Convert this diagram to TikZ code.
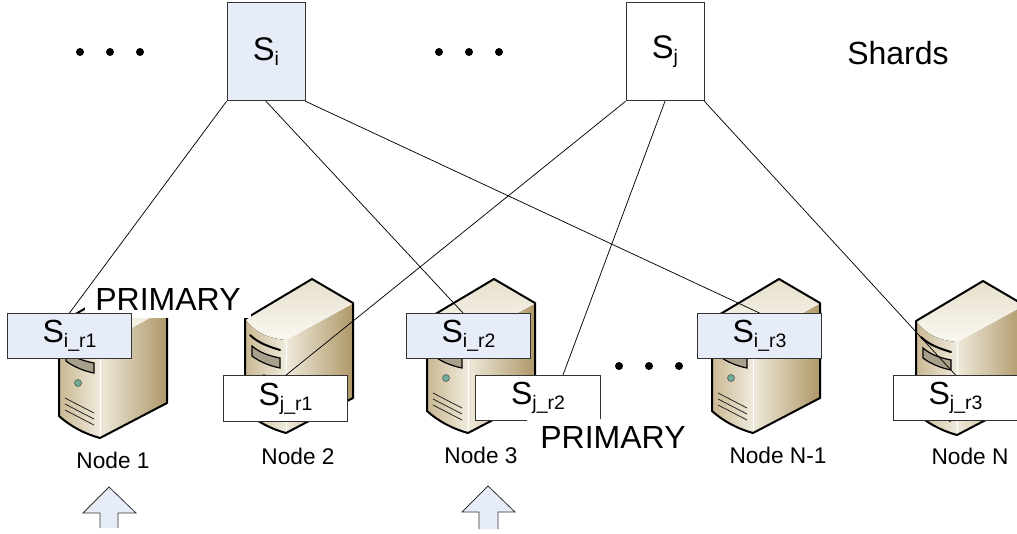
\documentclass[tikz,border=0pt]{standalone}
\usepackage{fontspec}
\setmainfont{Liberation Sans}
\definecolor{paleblue}{HTML}{E7EDF8}
\definecolor{boxline}{HTML}{333333}
\definecolor{topA}{HTML}{E6DFCB}
\definecolor{topB}{HTML}{FAF8F1}
\definecolor{frontA}{HTML}{C9B892}
\definecolor{frontB}{HTML}{F0EBDD}
\definecolor{sideA}{HTML}{EFE9DA}
\definecolor{sideB}{HTML}{AE9868}
\definecolor{bayfill}{HTML}{A9A08C}
\definecolor{ledgreen}{HTML}{6FAF95}
\newcommand{\Shard}[2]{{\fontsize{#1}{#1}\selectfont S}\raisebox{-0.36em}{\fontsize{14.6}{15}\selectfont #2}}
\tikzset{
  x=0.75pt,y=-0.75pt,
  replica/.style={draw=boxline,line width=0.7pt,minimum width=93.5pt,minimum height=34pt,inner sep=0pt,text=black},
  shardbox/.style={draw=boxline,line width=0.6pt,minimum width=58.5pt,minimum height=74pt,inner sep=0pt},
  link/.style={draw=black,line width=0.55pt},
  caption/.style={font=\fontsize{17}{18}\selectfont,inner sep=0pt},
  banner/.style={font=\fontsize{24}{26}\selectfont,inner sep=0pt},
  dotmark/.style={circle,fill=black,minimum size=6pt,inner sep=0pt},
  server/.pic={
    % front face
    \fill[left color=frontA,right color=frontB] (-41,-114) .. controls (-32,-102) and (-20,-95) .. (0,-93) -- (0,0) .. controls (-15,-4) and (-30,-12) .. (-41,-22) -- cycle;
    % right face
    \fill[left color=sideA,right color=sideB] (0,-93) -- (67,-130) -- (67,-35) -- (0,0) -- cycle;
    % top face
    \fill[top color=topA,bottom color=topB] (-41,-114) -- (26,-154) -- (67,-130) -- (0,-93) .. controls (-20,-95) and (-32,-102) .. cycle;
    \draw[white,line width=0.6pt] (0,-93) -- (0,0);
    \draw[topB,line width=0.6pt] (0,-93) -- (67,-130);
    % bays
    \draw[black,line width=1.5pt,line cap=round] (-36,-98) .. controls (-28,-90) and (-16,-86) .. (-6,-83);
    \fill[bayfill,draw=black,line width=0.9pt] (-34,-87) .. controls (-26,-80) and (-16,-77) .. (-6,-75) -- (-6,-65) .. controls (-16,-67) and (-26,-71) .. (-34,-77) -- cycle;
    \fill[ledgreen,draw=black!70,line width=0.4pt] (-22,-55) circle (3.5);
    % vents
    \draw[black!85,line width=0.6pt] (-35,-40) -- (-6,-25) (-35,-34) -- (-6,-19) (-35,-28) -- (-6,-13);
    % outline
    \draw[black,line width=1.5pt,line join=round] (-41,-114) -- (26,-154) -- (67,-130) -- (67,-35) -- (0,0) .. controls (-15,-4) and (-30,-12) .. (-41,-22) -- cycle;
  }
}
\begin{document}
\begin{tikzpicture}
\useasboundingbox (0,0) rectangle (1017,533);
\clip (0,0) rectangle (1017,533);
% servers
\pic (srvA) at (100,438) {server};
\pic (srvB) at (286,433) {server};
\pic (srvC) at (468,433) {server};
\pic (srvD) at (753,433) {server};
\pic (srvE) at (957,435) {server};
% first banner
\node[banner,fill=white,minimum width=124.5pt,minimum height=28.5pt] (primA) at (168,299) {PRIMARY};
% shards
\node[shardbox,fill=paleblue] (si) at (266,51.5) {\raisebox{-2pt}{\Shard{24.5}{i}}};
\node[shardbox,fill=white] (sj) at (665,51.5) {\raisebox{-2pt}{\Shard{24.5}{j}}};
\coordinate (endB) at (463,313);
\coordinate (endE) at (563,375);
\path (69.5,336) coordinate (cA) (468.5,336) coordinate (cB) (759.5,336) coordinate (cC)
      (285.5,398.5) coordinate (cD) (538,398) coordinate (cE) (955.5,398) coordinate (cF);
% links
\path (cA) ++(0,-23) coordinate (topA) (cC) ++(0,-23) coordinate (topC) (cD) ++(0,-23) coordinate (topD) (cF) ++(0,-23) coordinate (topF);
\draw[link] (si.south west) -- (topA);
\draw[link] (si.south) -- (endB);
\draw[link] (si.south east) -- (topC);
\draw[link] (sj.south west) -- (topD);
\draw[link] (sj.south) -- (endE);
\draw[link] (sj.south east) -- (topF);
% replicas
\node[replica,fill=paleblue] (ra) at (cA) {\Shard{24}{i\_r1}};
\node[replica,fill=paleblue] (rb) at (cB) {\Shard{24}{i\_r2}};
\node[replica,fill=paleblue] (rc) at (cC) {\Shard{24}{i\_r3}};
\node[replica,fill=white] (rd) at (cD) {\Shard{24}{j\_r1}};
\node[replica,fill=white] (re) at (cE) {\Shard{24}{j\_r2}};
\node[replica,fill=white] (rf) at (cF) {\Shard{24}{j\_r3}};
% second banner
\node[banner,fill=white,minimum width=129pt,minimum height=27pt] (primB) at (613,437) {PRIMARY};
% texts
\node[banner] (shards) at (898,53) {Shards};
\node[caption] (capA) at (113,460) {Node 1};
\node[caption] (capB) at (298,456) {Node 2};
\node[caption] (capC) at (481,455) {Node 3};
\node[caption] (capD) at (778,455) {Node N-1};
\node[caption] (capE) at (970,456) {Node N};
% dots
\foreach \px/\py/\nm in {80/52/a,110/52/b,140/52/c,439/52/d,469/52/e,499/52/f,619/366/g,649/366/h,679/366/i}
  \node[dotmark] (dot\nm) at (\px,\py) {};
% client arrows
\fill[paleblue] (100,528) -- (100,513) -- (83,513) -- (109,487) -- (136,513) -- (118,513) -- (118,528) -- cycle;
\draw[boxline,line width=0.6pt,line join=miter] (100,528) -- (100,513) -- (83,513) -- (109,487) -- (136,513) -- (118,513) -- (118,528);
\fill[paleblue] (479,529) -- (479,512) -- (462,512) -- (488,486) -- (515,512) -- (498,512) -- (498,529) -- cycle;
\draw[boxline,line width=0.6pt,line join=miter] (479,529) -- (479,512) -- (462,512) -- (488,486) -- (515,512) -- (498,512) -- (498,529);
\end{tikzpicture}
\end{document}
